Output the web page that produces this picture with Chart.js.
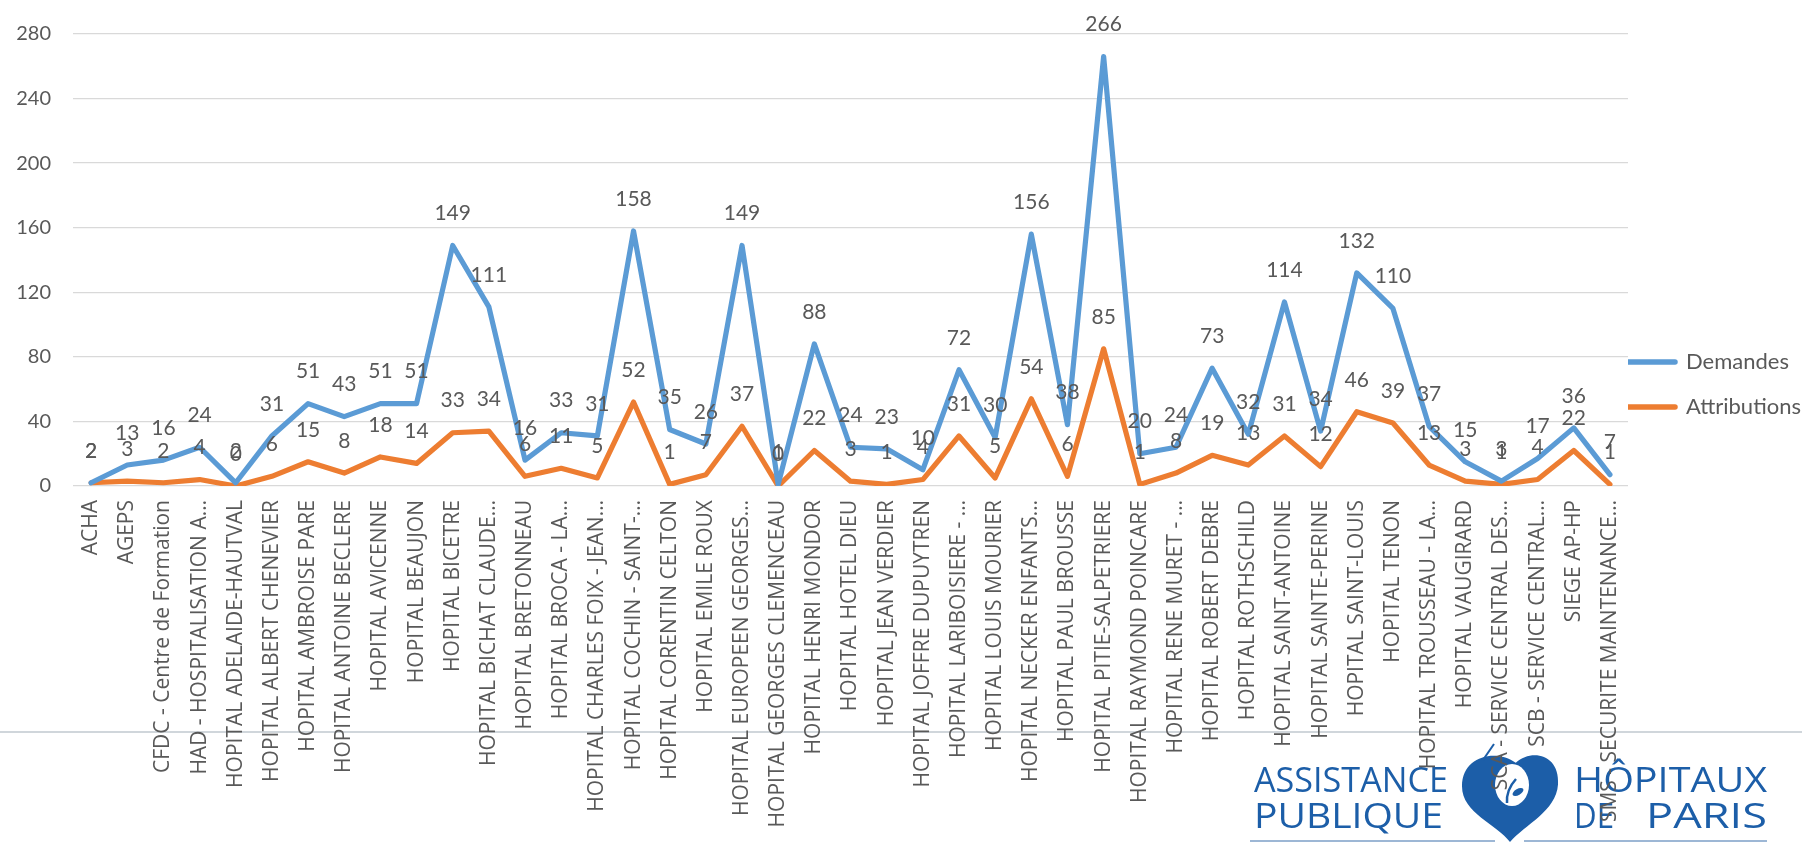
<!DOCTYPE html>
<html><head><meta charset="utf-8">
<script src="https://cdn.jsdelivr.net/npm/chart.js@4.4.1/dist/chart.umd.min.js"></script>
<style>html,body{margin:0;padding:0;background:#fff;overflow:hidden}canvas{display:block}</style>
</head><body>
<canvas id="c" width="1802" height="843"></canvas>
<script>
const categories = [
  'ACHA', 'AGEPS', 'CFDC - Centre de Formation', 'HAD - HOSPITALISATION A…',
  'HOPITAL ADELAIDE-HAUTVAL', 'HOPITAL ALBERT CHENEVIER', 'HOPITAL AMBROISE PARE',
  'HOPITAL ANTOINE BECLERE', 'HOPITAL AVICENNE', 'HOPITAL BEAUJON', 'HOPITAL BICETRE',
  'HOPITAL BICHAT CLAUDE…', 'HOPITAL BRETONNEAU', 'HOPITAL BROCA - LA…',
  'HOPITAL CHARLES FOIX - JEAN…', 'HOPITAL COCHIN - SAINT-…', 'HOPITAL CORENTIN CELTON',
  'HOPITAL EMILE ROUX', 'HOPITAL EUROPEEN GEORGES…', 'HOPITAL GEORGES CLEMENCEAU',
  'HOPITAL HENRI MONDOR', 'HOPITAL HOTEL DIEU', 'HOPITAL JEAN VERDIER',
  'HOPITAL JOFFRE DUPUYTREN', 'HOPITAL LARIBOISIERE - …', 'HOPITAL LOUIS MOURIER',
  'HOPITAL NECKER ENFANTS…', 'HOPITAL PAUL BROUSSE', 'HOPITAL PITIE-SALPETRIERE',
  'HOPITAL RAYMOND POINCARE', 'HOPITAL RENE MURET - …', 'HOPITAL ROBERT DEBRE',
  'HOPITAL ROTHSCHILD', 'HOPITAL SAINT-ANTOINE', 'HOPITAL SAINTE-PERINE',
  'HOPITAL SAINT-LOUIS', 'HOPITAL TENON', 'HOPITAL TROUSSEAU - LA…',
  'HOPITAL VAUGIRARD', 'SCA - SERVICE CENTRAL DES…', 'SCB - SERVICE CENTRAL…',
  'SIEGE AP-HP', 'SMS - SECURITE MAINTENANCE…'
];
const demandes = [2, 13, 16, 24, 2, 31, 51, 43, 51, 51, 149, 111, 16, 33, 31, 158, 35, 26, 149, 1,
  88, 24, 23, 10, 72, 30, 156, 38, 266, 20, 24, 73, 32, 114, 34, 132, 110, 37, 15, 3, 17, 36, 7];
const attributions = [2, 3, 2, 4, 0, 6, 15, 8, 18, 14, 33, 34, 6, 11, 5, 52, 1, 7, 37, 0,
  22, 3, 1, 4, 31, 5, 54, 6, 85, 1, 8, 19, 13, 31, 12, 46, 39, 13, 3, 1, 4, 22, 1];
const yTicks = [0, 40, 80, 120, 160, 200, 240, 280];
const seriesNames = ['Demandes', 'Attributions'];

const W = 1802, H = 843;
const TEXT = '#595959', GRID = '#d9d9d9', BLUE = '#5b9bd5', ORANGE = '#ed7d31';
const PLOT_LEFT = 73, PLOT_TOP = 31, PLOT_BOTTOM = 486, CHART_RIGHT = 1628;
const LEG_FONT = 22, LEG_BOX = 46, LEG_PAD = 1;

const mctx = document.createElement('canvas').getContext('2d');
mctx.font = LEG_FONT + 'px Lato';
const legTextW = Math.max(...seriesNames.map(s => mctx.measureText(s).width));
const legWidth = LEG_PAD + LEG_BOX + LEG_FONT / 2 + legTextW + 10;
const padRight = W - CHART_RIGHT - legWidth;

function fitText(ctx, text, x, y, w) {
  const m = ctx.measureText(text).width;
  ctx.save();
  ctx.translate(x, y);
  ctx.scale(w / m, 1);
  ctx.fillText(text, 0, 0);
  ctx.restore();
}

const background = {
  id: 'background',
  beforeDraw(chart) {
    const ctx = chart.ctx;
    ctx.save();
    ctx.fillStyle = '#ffffff';
    ctx.fillRect(0, 0, W, H);
    // slide separator line
    ctx.strokeStyle = '#d0d6db';
    ctx.lineWidth = 2;
    ctx.beginPath(); ctx.moveTo(0, 732); ctx.lineTo(W, 732); ctx.stroke();
    // logo
    const blue = '#1c5ea8';
    ctx.fillStyle = blue;
    ctx.textAlign = 'left';
    ctx.textBaseline = 'alphabetic';
    ctx.font = '500 34px "Open Sans"';
    fitText(ctx, 'ASSISTANCE', 1254, 792, 194);
    fitText(ctx, 'PUBLIQUE', 1254, 828, 189);
    fitText(ctx, 'HÔPITAUX', 1574, 792, 193);
    fitText(ctx, 'DE', 1574, 828, 40);
    fitText(ctx, 'PARIS', 1646, 828, 121);
    // heart
    const x0 = 1462, y0 = 752, w = 96, h = 90;
    ctx.beginPath();
    ctx.moveTo(x0 + w * 0.56, y0 + h * 0.12);
    ctx.bezierCurveTo(x0 + w * 0.72, y0 - h * 0.04, x0 + w * 1.02, y0 + h * 0.02, x0 + w, y0 + h * 0.36);
    ctx.bezierCurveTo(x0 + w * 0.98, y0 + h * 0.66, x0 + w * 0.66, y0 + h * 0.8, x0 + w * 0.5, y0 + h);
    ctx.bezierCurveTo(x0 + w * 0.36, y0 + h * 0.8, x0, y0 + h * 0.68, x0, y0 + h * 0.38);
    ctx.bezierCurveTo(x0, y0 + h * 0.04, x0 + w * 0.36, y0 - h * 0.04, x0 + w * 0.56, y0 + h * 0.12);
    ctx.fill();
    ctx.strokeStyle = blue; ctx.lineWidth = 2;
    ctx.beginPath(); ctx.moveTo(1483, 760); ctx.lineTo(1494, 744); ctx.stroke();
    ctx.fillStyle = '#ffffff';
    ctx.beginPath(); ctx.ellipse(1512, 785, 17, 21, 0, 0, Math.PI * 2); ctx.fill();
    ctx.strokeStyle = blue; ctx.lineWidth = 2.5;
    ctx.beginPath(); ctx.moveTo(1507, 803); ctx.quadraticCurveTo(1506, 790, 1516, 779); ctx.stroke();
    ctx.fillStyle = blue;
    ctx.beginPath(); ctx.ellipse(1518, 792, 6, 3, -0.5, 0, Math.PI * 2); ctx.fill();
    // underlines
    ctx.strokeStyle = '#9db7d5'; ctx.lineWidth = 2;
    ctx.beginPath(); ctx.moveTo(1250, 841); ctx.lineTo(1495, 841); ctx.stroke();
    ctx.beginPath(); ctx.moveTo(1524, 841); ctx.lineTo(1767, 841); ctx.stroke();
    ctx.restore();
  }
};

const valueLabels = {
  id: 'valueLabels',
  afterDatasetsDraw(chart) {
    const ctx = chart.ctx;
    ctx.save();
    ctx.font = '21px Lato';
    ctx.fillStyle = TEXT;
    ctx.textAlign = 'center';
    ctx.textBaseline = 'middle';
    chart.data.datasets.forEach((ds, i) => {
      const meta = chart.getDatasetMeta(i);
      meta.data.forEach((pt, j) => ctx.fillText(String(ds.data[j]), pt.x, pt.y - 32));
    });
    ctx.restore();
  }
};

new Chart(document.getElementById('c'), {
  type: 'line',
  data: {
    labels: categories,
    datasets: [
      { label: seriesNames[0], data: demandes, borderColor: BLUE, backgroundColor: BLUE },
      { label: seriesNames[1], data: attributions, borderColor: ORANGE, backgroundColor: ORANGE }
    ]
  },
  options: {
    responsive: false,
    animation: false,
    devicePixelRatio: 1,
    layout: { padding: { top: PLOT_TOP, left: 0, bottom: 0, right: padRight } },
    elements: {
      line: { borderWidth: 5.2, tension: 0, borderJoinStyle: 'round', borderCapStyle: 'round', fill: false },
      point: { radius: 0, hoverRadius: 0 }
    },
    scales: {
      x: {
        type: 'category',
        offset: true,
        grid: { display: false, drawTicks: false },
        border: { display: false },
        ticks: {
          autoSkip: false, maxRotation: 90, minRotation: 90, padding: 14,
          color: TEXT, font: { family: '"Open Sans"', size: 21 }
        },
        afterFit(s) { s.height = H - PLOT_BOTTOM; }
      },
      y: {
        min: 0, max: 280,
        grid: { color: GRID, lineWidth: 1.3, drawTicks: false },
        border: { display: false },
        ticks: { padding: 22, color: TEXT, font: { family: 'Lato', size: 20 } },
        afterBuildTicks(s) { s.ticks = yTicks.map(v => ({ value: v })); },
        afterFit(s) { s.width = PLOT_LEFT; }
      }
    },
    plugins: {
      tooltip: { enabled: false },
      legend: {
        position: 'right',
        align: 'start',
        title: { display: true, text: '', font: { size: 10, lineHeight: 1.2 }, padding: { top: 350 - PLOT_TOP - 12, bottom: 0 } },
        labels: {
          usePointStyle: true, pointStyle: 'line', pointStyleWidth: LEG_BOX, padding: LEG_PAD,
          color: TEXT, font: { family: 'Lato', size: LEG_FONT, lineHeight: 2.0 },
          generateLabels(chart) {
            return chart.data.datasets.map((ds, i) => ({
              text: [ds.label], fillStyle: ds.borderColor, strokeStyle: ds.borderColor,
              fontColor: TEXT, lineWidth: 5.5, lineCap: 'round', pointStyle: 'line',
              hidden: false, datasetIndex: i
            }));
          }
        }
      }
    }
  },
  plugins: [background, valueLabels]
});
</script>
</body></html>
